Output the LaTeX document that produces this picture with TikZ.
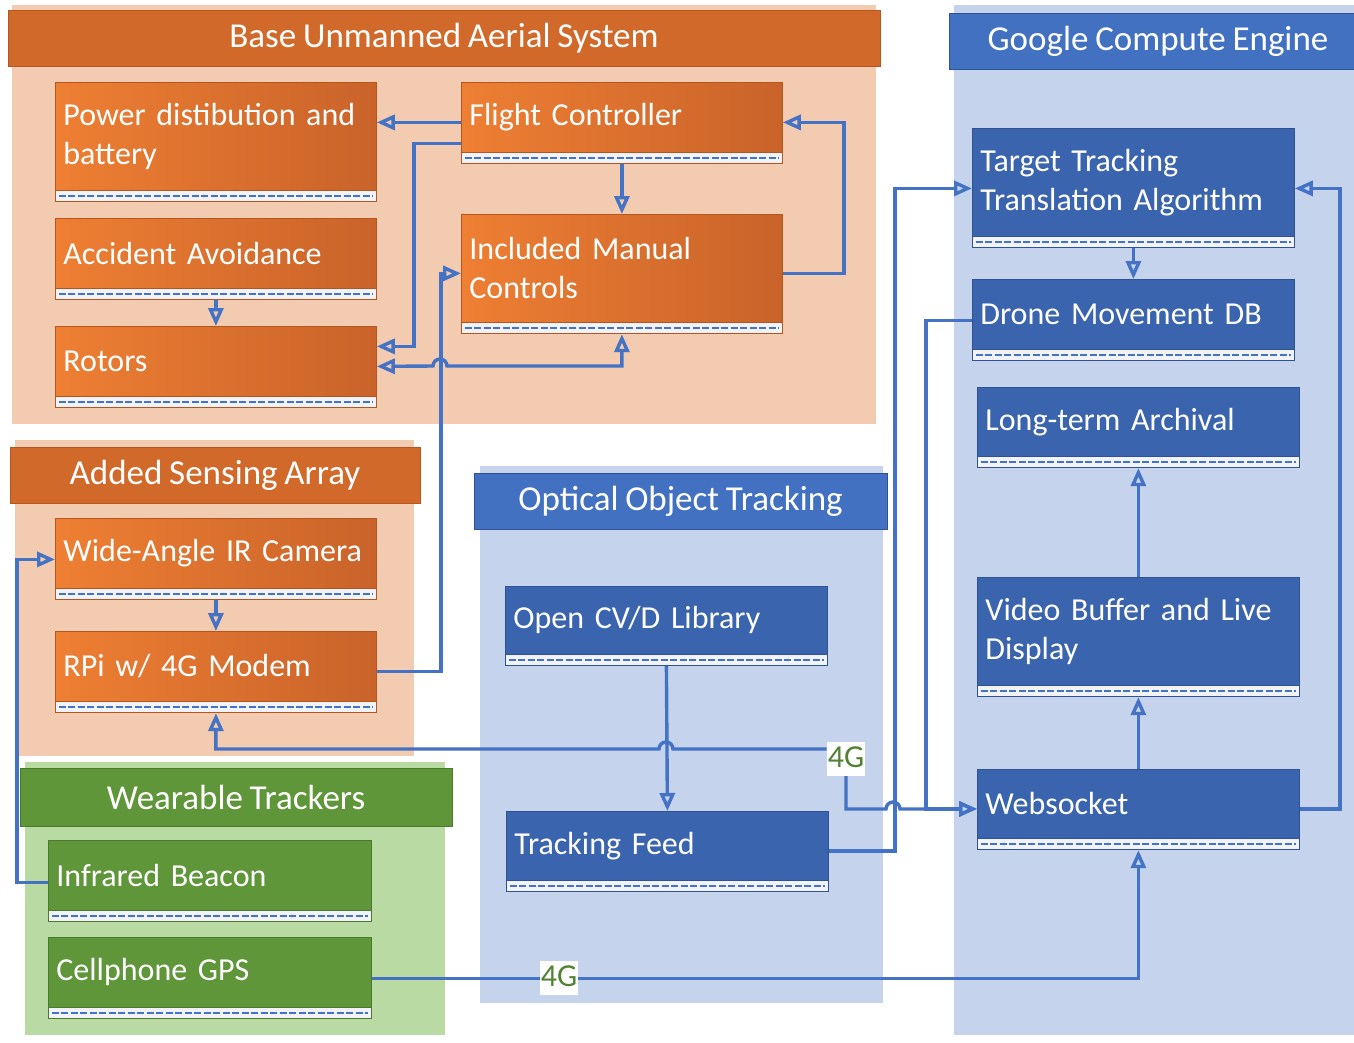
\documentclass[tikz,border=0pt]{standalone}
\usepackage{fontspec}
\setmainfont{Carlito}[WordSpace=0.85]
\usetikzlibrary{arrows.meta,calc,fit}
\definecolor{PeachClr}{HTML}{F2CBB0}
\definecolor{OrangeClr}{HTML}{D1692B}
\definecolor{OrangeLt}{HTML}{EE7F33}
\definecolor{OrangeDk}{HTML}{C9632A}
\definecolor{OrangeEdge}{HTML}{B5561E}
\definecolor{SkyClr}{HTML}{C5D4EC}
\definecolor{BlueClr}{HTML}{3B64AE}
\definecolor{BlueTtl}{HTML}{4371C1}
\definecolor{BlueEdge}{HTML}{2F5290}
\definecolor{LeafClr}{HTML}{B9DBA3}
\definecolor{GreenClr}{HTML}{5F9639}
\definecolor{GreenEdge}{HTML}{4A7A2C}
\definecolor{LineClr}{HTML}{4472C4}
\definecolor{TagClr}{HTML}{548235}
\definecolor{StripClr}{HTML}{F1F3F8}

% white strip with dashes under a box
\newcommand{\AddStrip}[2]{%
  \coordinate (#1-c) at ([yshift=-11pt]#1.south east);
  \node[strip,draw=#2,fit=(#1.south west)(#1-c)] (#1-s) {};
  \draw[stripdash] ([xshift=4pt]#1-s.west) -- ([xshift=-4pt]#1-s.east);
}

\begin{document}
\begin{tikzpicture}[x=1pt,y=-1pt,
  txt/.style={text=white,font=\fontsize{32}{39}\selectfont},
  box/.style={txt,rectangle,anchor=north west,minimum width=321pt,minimum height=70pt,
    text width=305pt,inner xsep=8pt,align=left,line width=0.8pt},
  obox/.style={box,left color=OrangeLt,right color=OrangeDk,draw=OrangeEdge},
  bbox/.style={box,fill=BlueClr,draw=BlueEdge,minimum width=322pt,text width=306pt},
  gbox/.style={box,fill=GreenClr,draw=GreenEdge,minimum width=323pt,text width=307pt},
  ttl/.style={text=white,font=\fontsize{35}{42}\selectfont,rectangle,minimum height=56pt,inner sep=0pt},
  strip/.style={rectangle,fill=StripClr,inner sep=0pt,line width=0.8pt},
  stripdash/.style={LineClr,line width=2pt,dash pattern=on 7pt off 2.5pt},
  conn/.style={LineClr,line width=3.4pt},
  >={Triangle[open,length=18pt,width=15pt]},
  tag/.style={fill=white,text=TagClr,font=\fontsize{32}{39}\selectfont,
    inner sep=1pt,text height=24pt,text depth=8pt}]
\useasboundingbox (0,0) rectangle (1354,1042);

% groups
\fill[PeachClr] (12,5) rectangle (876,424);
\fill[PeachClr] (15,440) rectangle (414,756);
\fill[LeafClr] (25,762) rectangle (445,1035);
\fill[SkyClr] (480,466) rectangle (883,1003);
\fill[SkyClr] (954,5) rectangle (1360,1035);

\node[ttl,fill=OrangeClr,draw=OrangeEdge,minimum width=872pt] (uas) at (444,38.5) {Base Unmanned Aerial System};
\node[ttl,fill=OrangeClr,draw=OrangeEdge,minimum width=410pt] (sens) at (215,475) {Added Sensing Array};
\node[ttl,fill=GreenClr,draw=GreenEdge,minimum width=432pt,minimum height=58pt] (wear) at (236,797) {Wearable Trackers};
\node[ttl,fill=BlueTtl,draw=BlueEdge,minimum width=413pt] (oot) at (680.5,501) {Optical Object Tracking};
\node[ttl,fill=BlueTtl,draw=BlueEdge,minimum width=418pt] (gce) at (1158,41) {Google Compute Engine};

% boxes
\node[obox,minimum height=108pt] (pwr) at (55,82) {Power distibution and\\battery};
\node[obox] (fc) at (461,82) {Flight Controller};
\node[obox] (aa) at (55,218) {Accident Avoidance};
\node[obox,minimum height=108pt] (imc) at (461,214) {Included Manual\\Controls};
\node[obox] (rot) at (55,326) {Rotors};
\node[obox] (wca) at (55,518) {Wide-Angle IR Camera};
\node[obox] (rpi) at (55,631) {RPi w/ 4G Modem};
\node[gbox] (ib) at (48,840) {Infrared Beacon};
\node[gbox] (gps) at (48,937) {Cellphone GPS};
\node[bbox,minimum height=68pt] (ocv) at (505,586) {Open CV/D Library};
\node[bbox,minimum height=69pt] (tf) at (506,811) {Tracking Feed};
\node[bbox,minimum height=108pt] (tta) at (972,128) {Target Tracking\\Translation Algorithm};
\node[bbox] (dmdb) at (972,279) {Drone Movement DB};
\node[bbox,minimum height=69pt] (lta) at (977,387) {Long-term Archival};
\node[bbox,minimum height=108pt] (vbld) at (977,577) {Video Buffer and Live\\Display};
\node[bbox,minimum height=69pt] (web) at (977,769) {Websocket};

\AddStrip{pwr}{OrangeEdge}
\AddStrip{fc}{OrangeEdge}
\AddStrip{aa}{OrangeEdge}
\AddStrip{imc}{OrangeEdge}
\AddStrip{rot}{OrangeEdge}
\AddStrip{wca}{OrangeEdge}
\AddStrip{rpi}{OrangeEdge}
\AddStrip{ib}{GreenEdge}
\AddStrip{gps}{GreenEdge}
\AddStrip{ocv}{BlueEdge}
\AddStrip{tf}{BlueEdge}
\AddStrip{tta}{BlueEdge}
\AddStrip{dmdb}{BlueEdge}
\AddStrip{lta}{BlueEdge}
\AddStrip{vbld}{BlueEdge}
\AddStrip{web}{BlueEdge}

% links in the drone
\draw[conn,->] ([yshift=-5pt]fc.west) -- ([yshift=-5pt]fc.west -| pwr.east);
\draw[conn,->] ([yshift=-26pt]fc.west) -- ++(-47,0) |- ([yshift=15pt]rot.east);
\draw[conn,->] (fc-s.south) -- (imc.north);
\draw[conn,->] ([yshift=-5pt]imc.east) -- ++(61,0) |- ([yshift=-5pt]fc.east);
\draw[conn,->] (aa-s.south) -- (rot.north);
\draw[conn,<->] ([yshift=-5pt]rot.east) -- (433,366) arc(180:360:7) -| (imc-s.south);
\draw[conn,->] (wca-s.south) -- (rpi.north);
\draw[conn,->] ([yshift=-5pt]rpi.east) -- ++(64,0) |- ([yshift=-5pt]imc.west);
\draw[conn,->] ([yshift=-7pt]ib.west) -- ++(-31,0) |- ([yshift=-6pt]wca.west);

% tracking and cloud
\draw[conn,->] (ocv-s.south) -- (tf.north);
\draw[conn,->] ([yshift=-5pt]tf.east) -- ++(66,0) |- ([yshift=-6pt]tta.west);
\draw[conn,->] (tta-s.south) -- (dmdb.north);
\draw[conn,->] ([yshift=-6pt]dmdb.west) -- ++(-46,0) |- ([yshift=-5pt]web.west);
\draw[conn,->] ([yshift=-5pt]web.east) -- ++(40,0) |- ([yshift=-6pt]tta.east);
\draw[conn,->] (web.north) -- (vbld-s.south);
\draw[conn,->] (vbld.north) -- (lta-s.south);

% 4G links
\node[tag] (g1) at (846,759) {4G};
\draw[conn,<-] (rpi-s.south) |- (659,749) arc(180:360:7) -- ([yshift=10pt]g1.west);
\draw[conn,->] (g1.south) |- (886,809) arc(180:360:7) -- ([yshift=-5pt]web.west);
\draw[conn,->] ([yshift=-6pt]gps.east) -| (web-s.south);
\node[tag] (g2) at (559,978) {4G};

\end{tikzpicture}
\end{document}
